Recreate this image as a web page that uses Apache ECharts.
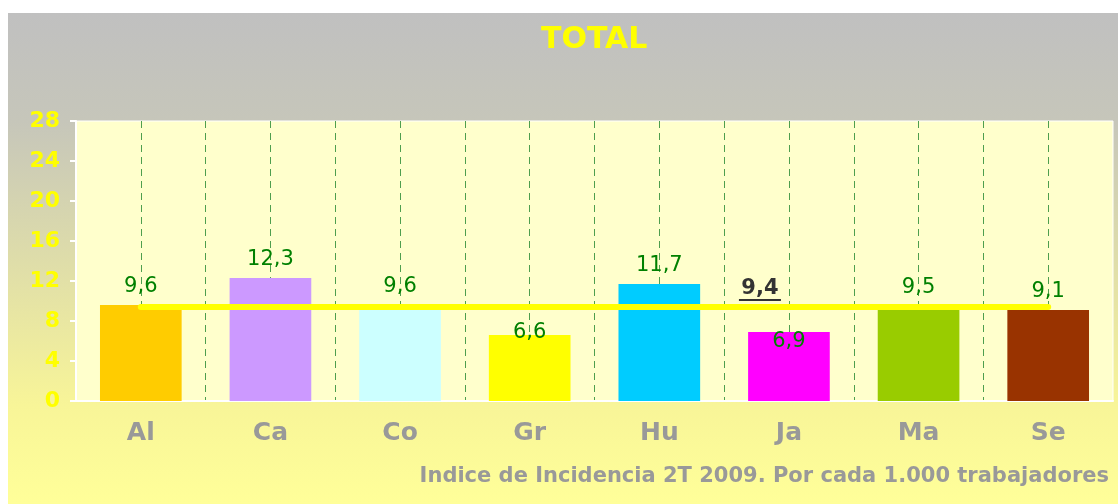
<!DOCTYPE html>
<html>
<head>
<meta charset="utf-8">
<script src="https://cdn.jsdelivr.net/npm/echarts@6/dist/echarts.min.js"></script>
<style>
  html, body { margin: 0; padding: 0; background: #fff; }
  #chart { position: absolute; left: 8px; top: 13px; width: 1110px; height: 491px; }
</style>
</head>
<body>
<div id="chart"></div>
<script>
// data
var categories = ["Al", "Ca", "Co", "Gr", "Hu", "Ja", "Ma", "Se"];
var values = [9.6, 12.3, 9.6, 6.6, 11.7, 6.9, 9.5, 9.1];
var average = 9.4;
var yTicks = [0, 4, 8, 12, 16, 20, 24, 28];
var titleText = "TOTAL";
var footerText = "Indice de Incidencia 2T 2009. Por cada 1.000 trabajadores";

var barColors = ["#FFCC00", "#CC99FF", "#CCFFFF", "#FFFF00", "#00CCFF", "#FF00FF", "#99CC00", "#993300"];
// a couple of labels sit lower in the original
var labelShift = { 3: [0, 16], 5: [0, 28] };

function fmt(v) {
  return String(v).replace(".", ",");
}

var chart = echarts.init(document.getElementById("chart"));

var barData = values.map(function (v, i) {
  var item = { value: v, itemStyle: { color: barColors[i] } };
  if (labelShift[i]) {
    item.label = { offset: labelShift[i] };
  }
  return item;
});

var avgData = categories.map(function (c, i) {
  var item = { value: average };
  if (i === 5) {
    item.label = {
      show: true,
      position: "top",
      distance: 5,
      offset: [-29, 0],
      formatter: "{v|" + fmt(average) + "}\n{u| }",
      rich: {
        v: { fontFamily: "DejaVu Sans", fontWeight: "bold", fontSize: 21, color: "#333333", lineHeight: 20, align: "center" },
        u: { width: 42, height: 2, lineHeight: 3, backgroundColor: "#333333", align: "center" }
      }
    };
  }
  return item;
});

chart.setOption({
  backgroundColor: {
    type: "linear", x: 0, y: 0, x2: 0, y2: 1,
    colorStops: [
      { offset: 0, color: "#C0C0C0" },
      { offset: 0.22, color: "#C6C6BA" },
      { offset: 0.8, color: "#F8F598" },
      { offset: 1, color: "#FFFF99" }
    ]
  },
  animation: false,
  title: [
    {
      text: titleText,
      left: 528,
      top: 7,
      textStyle: { color: "#FFFF00", fontFamily: "DejaVu Sans", fontWeight: "bold", fontSize: 30 }
    },
    {
      text: footerText,
      right: 4,
      top: 448,
      textStyle: { color: "#999999", fontFamily: "DejaVu Sans", fontWeight: "bold", fontSize: 21 }
    }
  ],
  grid: {
    left: 68,
    right: 5,
    top: 108,
    bottom: 103,
    show: true,
    backgroundColor: "#FFFFCC",
    borderColor: "#FFFFFF",
    borderWidth: 1
  },
  xAxis: [
    {
      type: "category",
      data: categories,
      axisLine: { lineStyle: { color: "#FFFFFF", width: 2 } },
      axisTick: { lineStyle: { color: "#FFFFFF", width: 2 }, length: 6 },
      axisLabel: { color: "#999999", fontFamily: "DejaVu Sans", fontWeight: "bold", fontSize: 25, margin: 20 },
      splitLine: { show: false }
    },
    {
      // only used for the dashed verticals at centres and boundaries
      type: "value",
      min: 0,
      max: categories.length * 2,
      interval: 1,
      position: "bottom",
      axisLine: { show: false },
      axisTick: { show: false },
      axisLabel: { show: false },
      splitLine: {
        show: true,
        showMinLine: false,
        showMaxLine: false,
        lineStyle: { color: "#4E9E4E", type: [7, 5], width: 1 }
      }
    }
  ],
  yAxis: {
    type: "value",
    min: yTicks[0],
    max: yTicks[yTicks.length - 1],
    interval: yTicks[1] - yTicks[0],
    axisLine: { show: true, lineStyle: { color: "#FFFFFF", width: 2 } },
    axisTick: { show: true, length: 6, lineStyle: { color: "#FFFFFF", width: 2 } },
    axisLabel: { color: "#FFFF00", fontFamily: "DejaVu Sans", fontWeight: "bold", fontSize: 22, margin: 16 },
    splitLine: { show: false }
  },
  series: [
    {
      type: "bar",
      data: barData,
      barWidth: "63%",
      label: {
        show: true,
        position: "top",
        distance: 8,
        color: "#008000",
        fontFamily: "DejaVu Sans",
        fontSize: 21,
        formatter: function (p) { return fmt(p.value); }
      },
      z: 2
    },
    {
      type: "line",
      data: avgData,
      symbol: "circle",
      symbolSize: 1,
      itemStyle: { color: "#FFFF00" },
      lineStyle: { color: "#FFFF00", width: 6, cap: "round" },
      z: 3
    }
  ]
});
</script>
</body>
</html>
